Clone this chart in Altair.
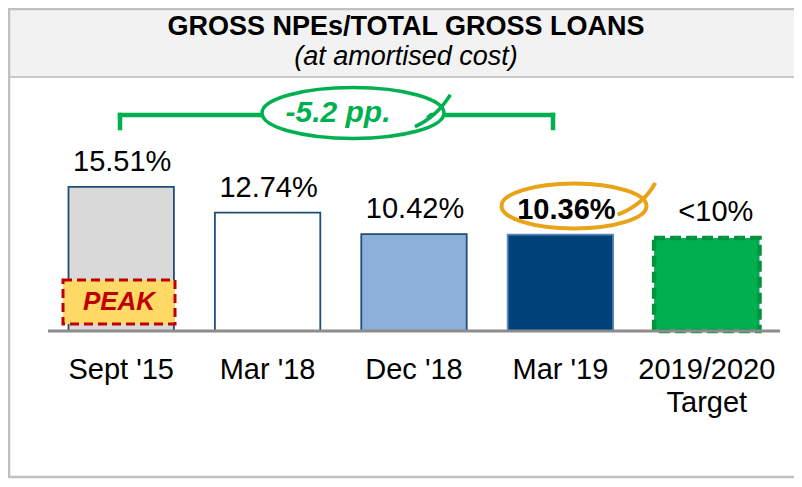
import altair as alt
import pandas as pd

# ---- data ----
categories = ["Sept '15", "Mar '18", "Dec '18", "Mar '19", "2019/2020"]
second_line = ["", "", "", "", "Target"]
values = [15.51, 12.74, 10.42, 10.36, 10.0]
value_labels = ["15.51%", "12.74%", "10.42%", "10.36%", "<10%"]
fills = ["#D9D9D9", "#FFFFFF", "#8DB0DB", "#00427A", "#00B050"]
strokes = ["#1F4E79", "#1F4E79", "#1F4E79", "#5B86B8", "#00933E"]

title_text = "GROSS NPEs/TOTAL GROSS LOANS"
subtitle_text = "(at amortised cost)"
change_text = "-5.2 pp."
peak_text = "PEAK"

FONT = "Liberation Sans"
W, H = 732, 251
PL, PT = 40, 72
PR = 786 - W - PL
PB = 471 - H - PT

df = pd.DataFrame({"cat": categories, "line2": second_line, "val": values,
                   "lab": value_labels, "fill": fills, "stroke": strokes})

xenc = alt.X("cat:N", sort=categories,
             scale=alt.Scale(paddingInner=0.28, paddingOuter=0.14),
             axis=alt.Axis(title=None, domain=False, ticks=False, labelAngle=0,
                           labelFont=FONT, labelFontSize=29, labelColor="#000000",
                           labelPadding=24, labelLimit=300))
yenc = alt.Y("val:Q", scale=alt.Scale(domain=[0, 27]), axis=None)

one = pd.DataFrame({"k": [0]})

frame_bg = alt.Chart(one).mark_rect(fill="#F2F2F2").encode(
    x=alt.value(-PL + 1), x2=alt.value(W + PR + 10),
    y=alt.value(-PT + 1), y2=alt.value(-3))
band_line = alt.Chart(one).mark_rule(color="#C8C8C8", strokeWidth=2).encode(
    x=alt.value(-PL + 1), x2=alt.value(W + PR + 10), y=alt.value(-3))
frame = alt.Chart(one).mark_rect(fill="transparent", stroke="#C0C0C0", strokeWidth=2.5).encode(
    x=alt.value(-PL + 1), x2=alt.value(W + PR + 10),
    y=alt.value(-PT + 1), y2=alt.value(H + PB - 2))

title = alt.Chart(pd.DataFrame({"t": [title_text]})).mark_text(
    font=FONT, fontSize=27, fontWeight="bold", color="#000000", baseline="middle"
).encode(x=alt.value(358), y=alt.value(-53), text="t:N")
subtitle = alt.Chart(pd.DataFrame({"t": [subtitle_text]})).mark_text(
    font=FONT, fontSize=27, fontStyle="italic", color="#000000", baseline="middle"
).encode(x=alt.value(358), y=alt.value(-23), text="t:N")

bars = alt.Chart(df.iloc[:4]).mark_bar(strokeWidth=1.8).encode(
    x=xenc, y=yenc,
    fill=alt.Fill("fill:N", scale=None), stroke=alt.Stroke("stroke:N", scale=None))
target = alt.Chart(df.iloc[4:]).mark_bar(strokeWidth=4.5, strokeDash=[11, 5]).encode(
    x=xenc, y=yenc,
    fill=alt.Fill("fill:N", scale=None), stroke=alt.Stroke("stroke:N", scale=None))

base_rule = alt.Chart(one).mark_rule(color="#8C8C8C", strokeWidth=3).encode(
    x=alt.value(0), x2=alt.value(W), y=alt.value(H))

labels_hist = alt.Chart(df.iloc[:3]).mark_text(
    font=FONT, fontSize=29, color="#000000", baseline="alphabetic", dy=-16, dx=1
).encode(x=xenc, y=yenc, text="lab:N")
labels_bold = alt.Chart(df.iloc[3:4]).mark_text(
    font=FONT, fontSize=29, fontWeight="bold", color="#000000", baseline="alphabetic",
    dy=-16, dx=6
).encode(x=xenc, y=yenc, text="lab:N")
labels_target = alt.Chart(df.iloc[4:]).mark_text(
    font=FONT, fontSize=29, color="#000000", baseline="alphabetic", dy=-17, dx=9
).encode(x=xenc, y=yenc, text="lab:N")
line2_lbl = alt.Chart(df.iloc[4:]).mark_text(
    font=FONT, fontSize=29, color="#000000", baseline="top"
).encode(x=xenc, y=alt.value(H + 58), text="line2:N")

peak_box = alt.Chart(one).mark_rect(fill="#FFD966", stroke="#C00000", strokeWidth=3,
                                    strokeDash=[9, 5]).encode(
    x=alt.value(15), x2=alt.value(127), y=alt.value(200), y2=alt.value(244))
peak_lbl = alt.Chart(pd.DataFrame({"t": [peak_text]})).mark_text(
    font=FONT, fontSize=26, fontWeight="bold", fontStyle="italic", color="#C00000",
    baseline="middle").encode(x=alt.value(71), y=alt.value(222), text="t:N")

GREEN = "#00B050"
br_h = alt.Chart(one).mark_rule(color=GREEN, strokeWidth=4.5, strokeCap="square").encode(
    x=alt.value(72), x2=alt.value(505), y=alt.value(35))
br_l = alt.Chart(one).mark_rule(color=GREEN, strokeWidth=4.5, strokeCap="square").encode(
    x=alt.value(72), y=alt.value(35), y2=alt.value(48))
br_r = alt.Chart(one).mark_rule(color=GREEN, strokeWidth=4.5, strokeCap="square").encode(
    x=alt.value(505), y=alt.value(35), y2=alt.value(48))

def ellipse_path(ry, tail):
    k = 0.5523
    p = (f"M-1,0 C-1,{-k*ry:.3f} {-k:.3f},{-ry:.3f} 0,{-ry:.3f} "
         f"C{k:.3f},{-ry:.3f} 1,{-k*ry:.3f} 1,0 "
         f"C1,{k*ry:.3f} {k:.3f},{ry:.3f} 0,{ry:.3f} "
         f"C{-k:.3f},{ry:.3f} -1,{k*ry:.3f} -1,0 Z ")
    return p + tail

green_path = ellipse_path(0.28, "M0.68,0.15 C0.84,0.08 0.97,-0.04 1.07,-0.2")
green_ell = alt.Chart(one).mark_point(shape=green_path, size=182 ** 2, fill="#FFFFFF",
                                      stroke=GREEN, strokeWidth=3.5, opacity=1,
                                      fillOpacity=1).encode(
    x=alt.value(305), y=alt.value(33))
change_lbl = alt.Chart(pd.DataFrame({"t": [change_text]})).mark_text(
    font=FONT, fontSize=30, fontWeight="bold", fontStyle="italic", color=GREEN,
    baseline="middle").encode(x=alt.value(290), y=alt.value(33), text="t:N")

orange_path = ellipse_path(0.31, "M0.60,0.12 C0.82,0.04 1.02,-0.12 1.12,-0.32")
orange_ell = alt.Chart(one).mark_point(shape=orange_path, size=145 ** 2, fill="transparent",
                                       stroke="#E8A317", strokeWidth=4, opacity=1).encode(
    x=alt.value(526), y=alt.value(126))

chart = alt.layer(
    bars, target, frame_bg, band_line, frame, title, subtitle,
    br_h, br_l, br_r, green_ell, change_lbl,
    peak_box, peak_lbl, base_rule,
    labels_hist, labels_bold, labels_target, line2_lbl, orange_ell
).properties(
    width=W, height=H,
    autosize=alt.AutoSizeParams(type="none"),
    padding={"left": PL, "top": PT, "right": PR, "bottom": PB}
).configure_view(stroke=None)

chart.save("out.html", embed_options={"renderer": "svg", "actions": False})
